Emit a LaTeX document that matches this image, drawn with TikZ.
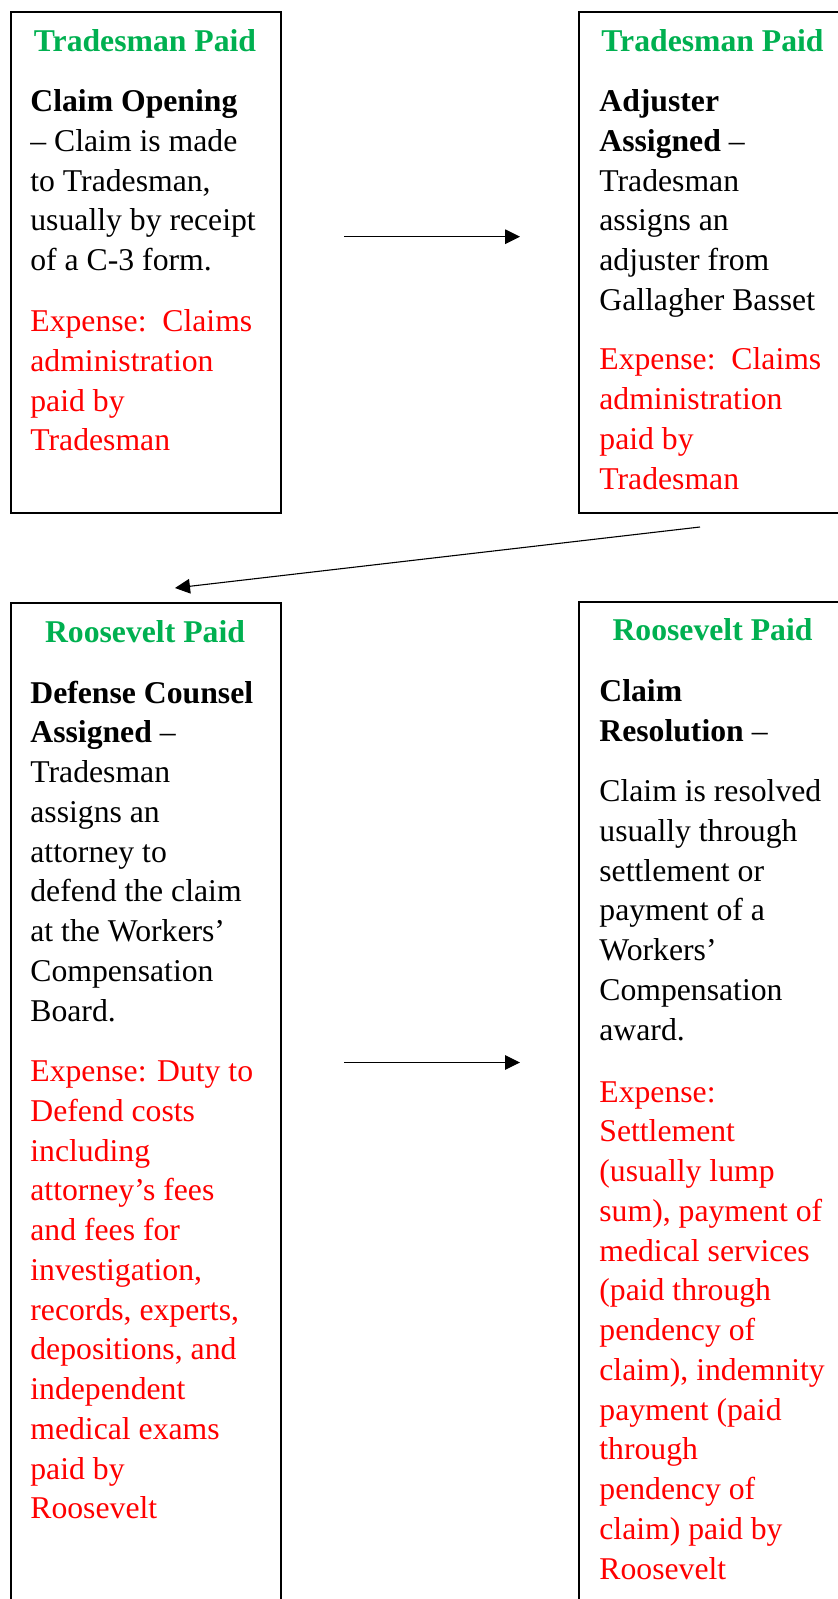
\documentclass[tikz,border=0pt]{standalone}
\usepackage{fontspec}
\setmainfont{Liberation Serif}
\usetikzlibrary{arrows.meta}
\definecolor{hdgreen}{RGB}{0,176,80}
\definecolor{exred}{RGB}{255,0,0}
\newcommand{\mylines}[1]{\begin{tabular}[t]{@{}l@{}}#1\end{tabular}}
\begin{document}
\begin{tikzpicture}[x=0.5pt,y=-0.5pt,
  box/.style={draw=black, line width=1pt, anchor=north west, inner sep=0pt, minimum width=135pt},
  ttl/.style={anchor=base, inner sep=0pt, text=hdgreen, font=\fontsize{15.85}{19.875}\selectfont\bfseries},
  bodytxt/.style={anchor=base west, inner sep=0pt, text=black, font=\fontsize{15.85}{19.875}\selectfont},
  exptxt/.style={anchor=base west, inner sep=0pt, text=exred, font=\fontsize{15.85}{19.875}\selectfont},
  conn/.style={-{Triangle[length=7.5pt,width=7.3pt]}, line width=0.55pt, draw=black}]
\useasboundingbox (0,0) rectangle (838,1599);
\clip (0,0) rectangle (838,1599);

% boxes
\node[box, minimum height=250.5pt] (b1) at (10,11) {};
\node[box, minimum height=250.5pt] (b2) at (578,11) {};
\node[box, minimum height=510pt] (b3) at (10,602) {};
\node[box, minimum height=510pt] (b4) at (578,601) {};

% box 1
\node[ttl] (t1) at (145,51.7) {Tradesman Paid};
\node[bodytxt] (d1) at (30,111.7) {\mylines{\textbf{Claim Opening}\\– Claim is made\\to Tradesman,\\usually by receipt\\of a C-3 form.}};
\node[exptxt] (e1) at (30,331.7) {\mylines{Expense:\ \ Claims\\administration\\paid by\\Tradesman}};

% box 2
\node[ttl] (t2) at (712.5,51.7) {Tradesman Paid};
\node[bodytxt] (d2) at (599,111.7) {\mylines{\textbf{Adjuster}\\\textbf{Assigned} –\\Tradesman\\assigns an\\adjuster from\\Gallagher Basset}};
\node[exptxt] (e2) at (599,370) {\mylines{Expense:\ \ Claims\\administration\\paid by\\Tradesman}};

% box 3
\node[ttl] (t3) at (145,642.7) {Roosevelt Paid};
\node[bodytxt] (d3) at (30,703) {\mylines{\textbf{Defense Counsel}\\\textbf{Assigned} –\\Tradesman\\assigns an\\attorney to\\defend the claim\\at the Workers’\\Compensation\\Board.}};
\node[exptxt] (e3) at (30,1081.7) {\mylines{Expense: Duty to\\Defend costs\\including\\attorney’s fees\\and fees for\\investigation,\\records, experts,\\depositions, and\\independent\\medical exams\\paid by\\Roosevelt}};

% box 4
\node[ttl] (t4) at (712.5,640.7) {Roosevelt Paid};
\node[bodytxt] (d4) at (599,701.7) {\mylines{\textbf{Claim}\\\textbf{Resolution} –}};
\node[bodytxt] (d4b) at (599,801.7) {\mylines{Claim is resolved\\usually through\\settlement or\\payment of a\\Workers’\\Compensation\\award.}};
\node[exptxt] (e4) at (599,1102) {\mylines{Expense:\\Settlement\\(usually lump\\sum), payment of\\medical services\\(paid through\\pendency of\\claim), indemnity\\payment (paid\\through\\pendency of\\claim) paid by\\Roosevelt}};

% connectors
\coordinate (a1s) at (344,236.7);
\coordinate (a1e) at (520,236.7);
\coordinate (a2s) at (700,527);
\coordinate (a2e) at (175,588);
\coordinate (a3s) at (344,1062.5);
\coordinate (a3e) at (520,1062.5);
\draw[conn] (a1s) -- (a1e);
\draw[conn] (a2s) -- (a2e);
\draw[conn] (a3s) -- (a3e);
\end{tikzpicture}
\end{document}
